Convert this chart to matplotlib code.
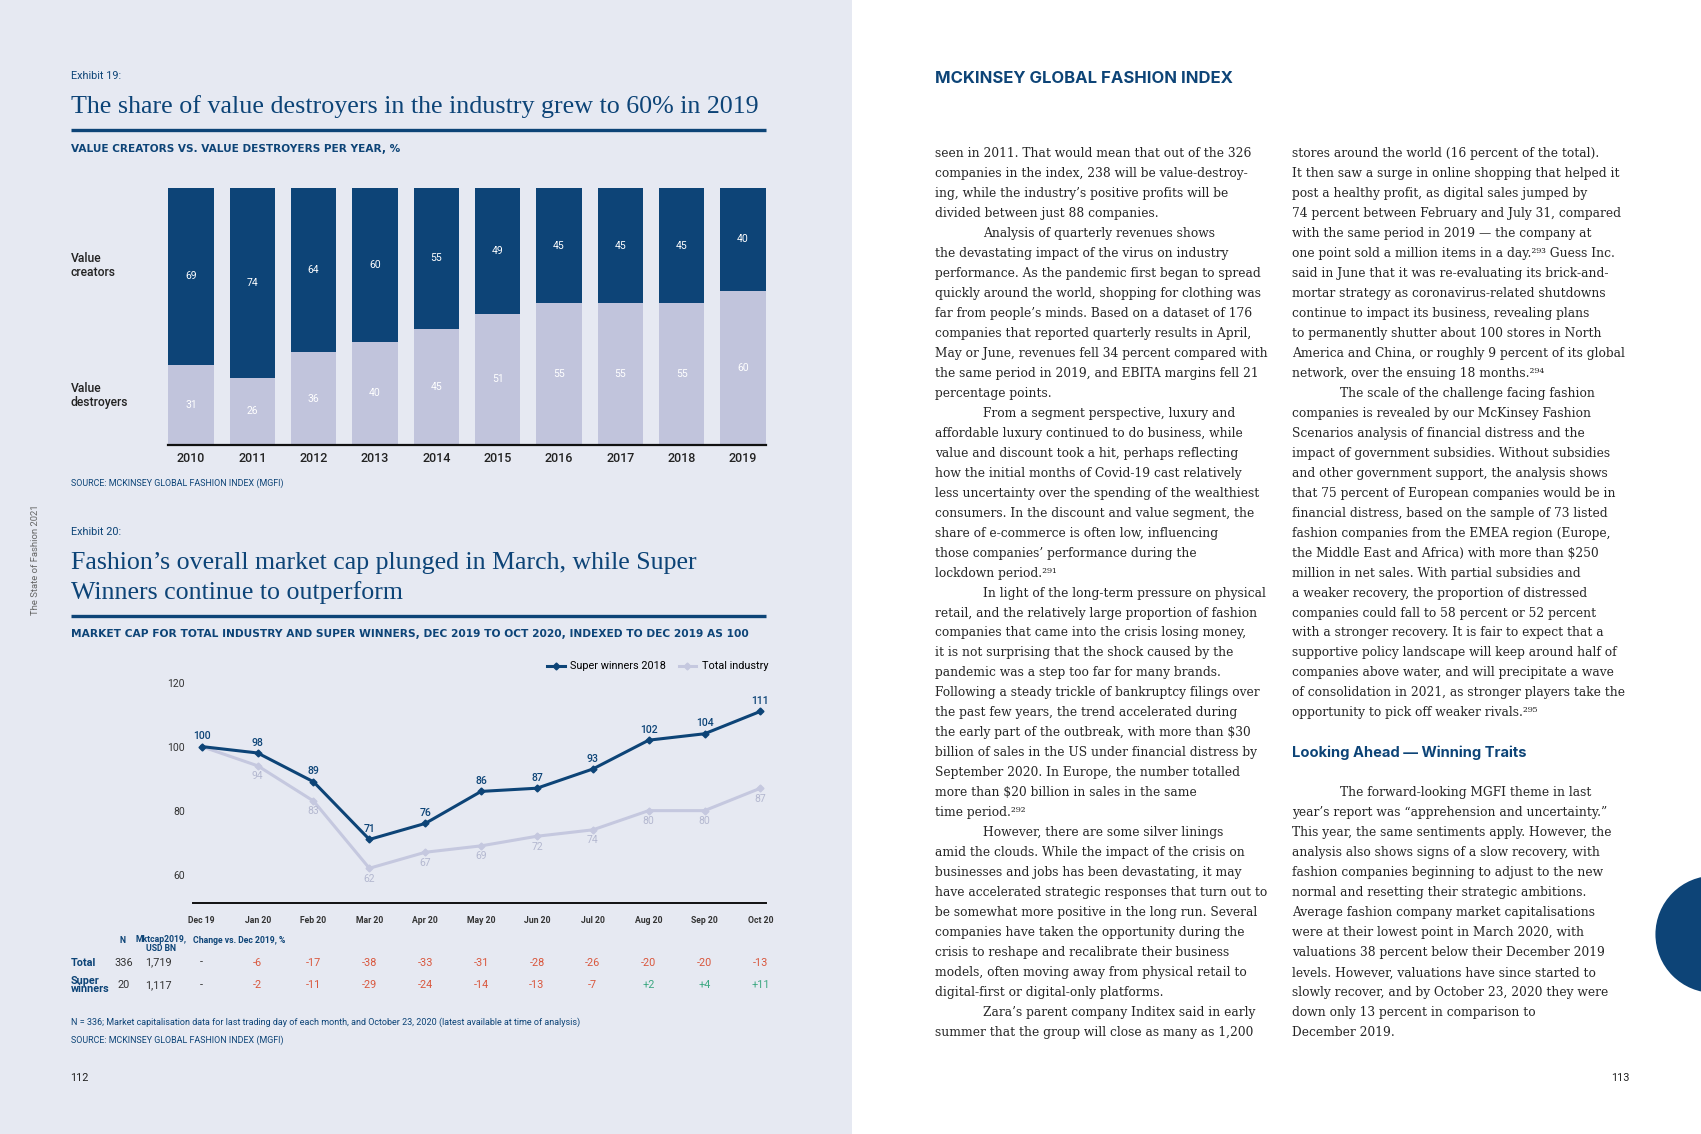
import matplotlib
matplotlib.use('Agg')
import matplotlib.pyplot as plt
from matplotlib.lines import Line2D
from matplotlib.patches import Rectangle, Circle
from matplotlib.transforms import blended_transform_factory

# exhibit 19 data
years = ['2010', '2011', '2012', '2013', '2014', '2015', '2016', '2017', '2018', '2019']
creators = [69, 74, 64, 60, 55, 49, 45, 45, 45, 40]
destroyers = [31, 26, 36, 40, 45, 51, 55, 55, 55, 60]

# exhibit 20 data
months = ['Dec 19', 'Jan 20', 'Feb 20', 'Mar 20', 'Apr 20', 'May 20',
          'Jun 20', 'Jul 20', 'Aug 20', 'Sep 20', 'Oct 20']
super_winners = [100, 98, 89, 71, 76, 86, 87, 93, 102, 104, 111]
total_industry = [100, 94, 83, 62, 67, 69, 72, 74, 80, 80, 87]
total_change = [None, -6, -17, -38, -33, -31, -28, -26, -20, -20, -13]
super_change = [None, -2, -11, -29, -24, -14, -13, -7, 2, 4, 11]
row_names = ['Total', 'Super\nwinners']
row_n = ['336', '20']
row_mktcap = ['1,719', '1,117']

col1_lines = [
    "seen in 2011. That would mean that out of the 326",
    "companies in the index, 238 will be value-destroy-",
    "ing, while the industry\u2019s positive profits will be",
    "divided between just 88 companies.",
    "\tAnalysis of quarterly revenues shows",
    "the devastating impact of the virus on industry",
    "performance. As the pandemic first began to spread",
    "quickly around the world, shopping for clothing was",
    "far from people\u2019s minds. Based on a dataset of 176",
    "companies that reported quarterly results in April,",
    "May or June, revenues fell 34 percent compared with",
    "the same period in 2019, and EBITA margins fell 21",
    "percentage points.",
    "\tFrom a segment perspective, luxury and",
    "affordable luxury continued to do business, while",
    "value and discount took a hit, perhaps reflecting",
    "how the initial months of Covid-19 cast relatively",
    "less uncertainty over the spending of the wealthiest",
    "consumers. In the discount and value segment, the",
    "share of e-commerce is often low, influencing",
    "those companies\u2019 performance during the",
    "lockdown period.\u00b2\u2079\u00b9",
    "\tIn light of the long-term pressure on physical",
    "retail, and the relatively large proportion of fashion",
    "companies that came into the crisis losing money,",
    "it is not surprising that the shock caused by the",
    "pandemic was a step too far for many brands.",
    "Following a steady trickle of bankruptcy filings over",
    "the past few years, the trend accelerated during",
    "the early part of the outbreak, with more than $30",
    "billion of sales in the US under financial distress by",
    "September 2020. In Europe, the number totalled",
    "more than $20 billion in sales in the same",
    "time period.\u00b2\u2079\u00b2",
    "\tHowever, there are some silver linings",
    "amid the clouds. While the impact of the crisis on",
    "businesses and jobs has been devastating, it may",
    "have accelerated strategic responses that turn out to",
    "be somewhat more positive in the long run. Several",
    "companies have taken the opportunity during the",
    "crisis to reshape and recalibrate their business",
    "models, often moving away from physical retail to",
    "digital-first or digital-only platforms.",
    "\tZara\u2019s parent company Inditex said in early",
    "summer that the group will close as many as 1,200",
]

col2_lines = [
    "stores around the world (16 percent of the total).",
    "It then saw a surge in online shopping that helped it",
    "post a healthy profit, as digital sales jumped by",
    "74 percent between February and July 31, compared",
    "with the same period in 2019 \u2014 the company at",
    "one point sold a million items in a day.\u00b2\u2079\u00b3 Guess Inc.",
    "said in June that it was re-evaluating its brick-and-",
    "mortar strategy as coronavirus-related shutdowns",
    "continue to impact its business, revealing plans",
    "to permanently shutter about 100 stores in North",
    "America and China, or roughly 9 percent of its global",
    "network, over the ensuing 18 months.\u00b2\u2079\u2074",
    "\tThe scale of the challenge facing fashion",
    "companies is revealed by our McKinsey Fashion",
    "Scenarios analysis of financial distress and the",
    "impact of government subsidies. Without subsidies",
    "and other government support, the analysis shows",
    "that 75 percent of European companies would be in",
    "financial distress, based on the sample of 73 listed",
    "fashion companies from the EMEA region (Europe,",
    "the Middle East and Africa) with more than $250",
    "million in net sales. With partial subsidies and",
    "a weaker recovery, the proportion of distressed",
    "companies could fall to 58 percent or 52 percent",
    "with a stronger recovery. It is fair to expect that a",
    "supportive policy landscape will keep around half of",
    "companies above water, and will precipitate a wave",
    "of consolidation in 2021, as stronger players take the",
    "opportunity to pick off weaker rivals.\u00b2\u2079\u2075",
    "",
    "#Looking Ahead \u2014 Winning Traits",
    "",
    "\tThe forward-looking MGFI theme in last",
    "year\u2019s report was \u201capprehension and uncertainty.\u201d",
    "This year, the same sentiments apply. However, the",
    "analysis also shows signs of a slow recovery, with",
    "fashion companies beginning to adjust to the new",
    "normal and resetting their strategic ambitions.",
    "Average fashion company market capitalisations",
    "were at their lowest point in March 2020, with",
    "valuations 38 percent below their December 2019",
    "levels. However, valuations have since started to",
    "slowly recover, and by October 23, 2020 they were",
    "down only 13 percent in comparison to",
    "December 2019.",
]

NAVY = '#0d4477'
LIGHT = '#c1c4dc'
BG = '#e6e9f2'
RED = '#d9573d'
GREEN = '#3da882'
TEXT = '#262626'
SERIF = ['Liberation Serif', 'DejaVu Serif']
BODY = ['DejaVu Serif']
SANS = ['Roboto', 'DejaVu Sans']
WIDE = ['DejaVu Sans']
HEAD = ['Inter', 'DejaVu Sans']

# page measured in a 1568 x 1045 grid
W, H = 1568, 1045


def box(x0, y0, x1, y1):
    return [x0 / W, 1 - y1 / H, (x1 - x0) / W, (y1 - y0) / H]


def body_column(ax, lines, x, y0, step=18.43):
    for i, line in enumerate(lines):
        y = y0 + i * step
        if line.startswith('#'):
            ax.text(x, y, line[1:], family=HEAD, weight='bold', size=10.6,
                    color=NAVY, va='center')
        elif line.startswith('\t'):
            ax.text(x + 44, y, line[1:], family=BODY, size=8.85, color=TEXT, va='center')
        elif line:
            ax.text(x, y, line, family=BODY, size=8.85, color=TEXT, va='center')


def bar_chart(fig):
    ax = fig.add_axes(box(155, 173, 706, 410), zorder=2)
    ax.patch.set_alpha(0)
    xs = range(len(years))
    ax.bar(xs, destroyers, width=0.74, color=LIGHT)
    ax.bar(xs, creators, width=0.74, bottom=destroyers, color=NAVY)
    for i in xs:
        ax.text(i, destroyers[i] / 2, str(destroyers[i]), ha='center', va='center',
                color='white', size=7.5, family=SANS)
        ax.text(i, destroyers[i] + creators[i] / 2, str(creators[i]), ha='center',
                va='center', color='white', size=7.5, family=SANS)
    ax.set_xlim(-0.371, 9.371)
    ax.set_ylim(0, 100)
    ax.set_xticks(list(xs))
    ax.set_xticklabels(years, family=SANS, size=9, color='#222222', weight='medium')
    ax.tick_params(axis='x', length=0, pad=5)
    ax.set_yticks([])
    for s in ['top', 'left', 'right']:
        ax.spines[s].set_visible(False)
    ax.spines['bottom'].set_linewidth(1.6)
    ax.spines['bottom'].set_color('#111111')
    return ax


def line_chart(fig, ov):
    ax = fig.add_axes(box(178, 626, 706, 832), zorder=2)
    ax.patch.set_alpha(0)
    xs = list(range(len(months)))
    ax.plot(xs, total_industry, color='#c5c8df', lw=2.2, marker='D', ms=3.5, zorder=2)
    ax.plot(xs, super_winners, color=NAVY, lw=2.2, marker='D', ms=3.5, zorder=3)
    for i in xs:
        ax.annotate(str(super_winners[i]), (i, super_winners[i]), xytext=(0, 7.5),
                    textcoords='offset points', ha='center', va='center',
                    color=NAVY, size=7.5, family=SANS, weight='medium')
        if i > 0:
            ax.annotate(str(total_industry[i]), (i, total_industry[i]), xytext=(0, -7.5),
                        textcoords='offset points', ha='center', va='center',
                        color='#b4b8d0', size=7.5, family=SANS)
    ax.set_xlim(-0.155, 10.097)
    ax.set_ylim(51.2, 121)
    ax.set_yticks([60, 80, 100, 120])
    ax.set_yticklabels(['60', '80', '100', '120'], family=SANS, size=7.5, color='#333333')
    ax.tick_params(axis='y', length=0, pad=6)
    ax.set_xticks([])
    for s in ['top', 'left', 'right']:
        ax.spines[s].set_visible(False)
    ax.spines['bottom'].set_linewidth(1.4)
    ax.spines['bottom'].set_color('#111111')

    handles = [Line2D([], [], color=NAVY, lw=2.2, marker='D', ms=3.5),
               Line2D([], [], color='#c5c8df', lw=2.2, marker='D', ms=3.5)]
    ax.legend(handles, ['Super winners 2018', 'Total industry'], loc='center right',
              bbox_to_anchor=(708, 614), bbox_transform=ov.transData, ncol=2,
              frameon=False, prop={'family': SANS, 'size': 7.8}, handlelength=1.6,
              handletextpad=0.5, columnspacing=1.2, borderaxespad=0, borderpad=0)

    # month row and change table under the axis
    tr = blended_transform_factory(ax.transData, ov.transData)
    for i, m in enumerate(months):
        ax.text(i, 848, m, transform=tr, ha='center', va='center', size=6.2,
                family=SANS, weight='bold', color='#333333', clip_on=False)
    for row, changes in enumerate([total_change, super_change]):
        y = 887 + row * 20.5
        for i, v in enumerate(changes):
            if v is None:
                s, c = '-', '#333333'
            elif v > 0:
                s, c = '+%d' % v, GREEN
            else:
                s, c = '%d' % v, RED
            ax.text(i, y, s, transform=tr, ha='center', va='center', size=7.8,
                    family=SANS, color=c, clip_on=False)
    return ax


fig = plt.figure(figsize=(17.01, 11.34), dpi=100, facecolor='white')
ov = fig.add_axes([0, 0, 1, 1], zorder=0)
ov.set_xlim(0, W)
ov.set_ylim(H, 0)
ov.axis('off')
ov.add_patch(Rectangle((0, 0), 785, H, color=BG, lw=0))
ov.add_patch(Circle((1580, 861), 54, color=NAVY, lw=0, clip_on=False))

# left page: exhibit 19
ov.text(65, 70, 'Exhibit 19:', family=SANS, size=7.8, color=NAVY, va='center')
ov.text(65, 98, 'The share of value destroyers in the industry grew to 60% in 2019',
        family=SERIF, size=18.7, color=NAVY, va='center')
ov.plot([65, 706], [119.5, 119.5], color=NAVY, lw=2.4, solid_capstyle='butt')
ov.text(65, 137, 'VALUE CREATORS VS. VALUE DESTROYERS PER YEAR, %', family=WIDE,
        size=7.6, weight='bold', color=NAVY, va='center')
ov.text(65, 245, 'Value\ncreators', family=SANS, size=8.7, color='#222222',
        va='center', linespacing=1.1, weight='medium')
ov.text(65, 364, 'Value\ndestroyers', family=SANS, size=8.7, color='#222222',
        va='center', linespacing=1.1, weight='medium')
ov.text(65, 445, 'SOURCE: MCKINSEY GLOBAL FASHION INDEX (MGFI)', family=SANS, size=6.4,
        color=NAVY, va='center')
bar_chart(fig)

ov.text(33, 516, 'The State of Fashion 2021', family=SANS, size=6.8, color='#666666',
        rotation=90, ha='center', va='center')

# left page: exhibit 20
ov.text(65, 490, 'Exhibit 20:', family=SANS, size=7.8, color=NAVY, va='center')
ov.text(65, 519, 'Fashion\u2019s overall market cap plunged in March, while Super',
        family=SERIF, size=18.6, color=NAVY, va='center')
ov.text(65, 546, 'Winners continue to outperform', family=SERIF, size=18.6, color=NAVY,
        va='center')
ov.plot([65, 706], [567.5, 567.5], color=NAVY, lw=2.4, solid_capstyle='butt')
ov.text(65, 584, 'MARKET CAP FOR TOTAL INDUSTRY AND SUPER WINNERS, DEC 2019 TO OCT 2020, '
        'INDEXED TO DEC 2019 AS 100', family=WIDE, size=7.7, weight='bold', color=NAVY,
        va='center')
line_chart(fig, ov)

ov.text(113, 867, 'N', family=SANS, size=6.2, weight='bold', color=NAVY, ha='center', va='center')
ov.text(148, 870, 'Mktcap2019,\nUSD BN', family=SANS, size=6.2, weight='bold', color=NAVY,
        ha='center', va='center', linespacing=1.0)
ov.text(178, 867, 'Change vs. Dec 2019, %', family=SANS, size=6.2, weight='bold',
        color=NAVY, va='center')
for row in range(2):
    y = 887 + row * 20.5
    ov.text(65, y, row_names[row], family=SANS, size=7.8, weight='bold', color=NAVY,
            va='center', linespacing=0.8)
    ov.text(114, y, row_n[row], family=SANS, size=7.8, color='#333333', ha='center', va='center')
    ov.text(146, y, row_mktcap[row], family=SANS, size=7.8, color='#333333', ha='center',
            va='center')

ov.text(65, 942, 'N = 336; Market capitalisation data for last trading day of each month, '
        'and October 23, 2020 (latest available at time of analysis)', family=SANS,
        size=6.5, color=NAVY, va='center')
ov.text(65, 959, 'SOURCE: MCKINSEY GLOBAL FASHION INDEX (MGFI)', family=SANS, size=6.4,
        color=NAVY, va='center')
ov.text(65, 993, '112', family=SANS, size=7.8, color='#222222', va='center')

# right page
ov.text(862, 72, 'MCKINSEY GLOBAL FASHION INDEX', family=HEAD, size=12, weight='bold',
        color=NAVY, va='center')
body_column(ov, col1_lines, 862, 141)
body_column(ov, col2_lines, 1191, 141)
ov.text(1502, 993, '113', family=SANS, size=7.8, color='#222222', va='center', ha='right')

fig.savefig('out.png', dpi=100, facecolor='white')
